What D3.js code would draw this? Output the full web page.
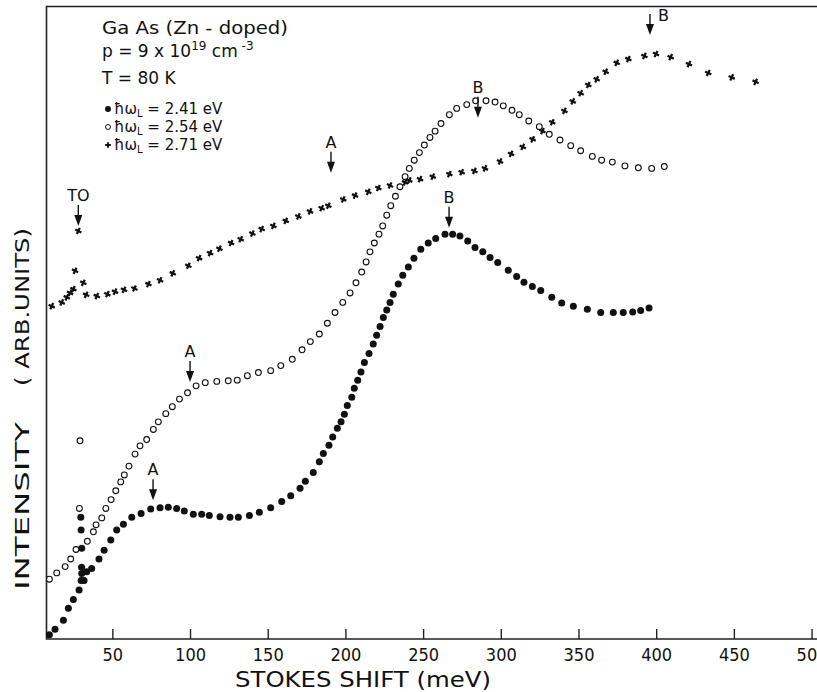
<!DOCTYPE html>
<html>
<head>
<meta charset="utf-8">
<script src="https://cdn.jsdelivr.net/npm/d3@7"></script>
<style>
  body { margin: 0; background: #fff; }
  text { font-family: "DejaVu Sans", sans-serif; fill: #111; }
  .tick text { font-family: "DejaVu Sans Condensed", "DejaVu Sans", sans-serif; }
</style>
</head>
<body>
<div id="vis"></div>
<script>
// Raman spectra, GaAs (Zn-doped) (x: meV, y: arb. units)

// hw_L = 2.41 eV (filled dots)
var shift241 = [9.5,13.1,18.5,21.7,24.9,28.6,29.9,31.8,30.3,30.2,33.5,36.7,30.3,29.9,29.7,
  41.4,44.7,49.0,52.8,57.1,62.5,68.5,74.7,80.7,86.0,91.4,96.3,102.1,107.5,112.4,119.3,125.7,131.1,
  138.2,144.6,151.9,159.0,164.8,170.8,174.2,179.3,183.2,185.8,189.4,191.8,194.8,197.2,199.3,201.2,
  204.1,205.7,207.9,210.0,212.2,215.2,217.9,220.1,222.3,224.4,226.6,228.7,230.8,234.0,236.9,240.5,
  244.1,248.5,253.3,258.1,264.1,269.0,273.7,278.7,283.4,288.4,293.1,298.0,304.8,310.2,314.9,320.3,
  325.7,332.8,339.2,346.7,355.7,364.3,372.4,378.8,384.9,390.0,395.4];
var int241 = [0.5,1.4,2.8,4.7,6.1,7.6,9.1,9.1,10.2,11.2,10.5,11.0,14.2,17.1,19.1,
  12.5,13.9,15.5,17.1,18.0,19.1,19.7,20.4,20.6,20.7,20.5,20.1,19.6,19.6,19.4,19.2,19.1,19.1,
  19.4,19.9,20.6,21.6,22.5,23.7,24.8,26.2,27.9,29.2,30.5,31.8,33.2,34.2,35.4,36.8,
  38.1,39.5,40.8,42.1,43.6,45.0,46.5,47.9,49.3,50.7,51.9,53.1,54.4,56.0,57.4,58.7,
  60.1,61.5,62.5,63.2,63.9,63.9,63.6,62.8,61.8,61.1,60.2,59.4,58.2,57.2,56.3,55.6,
  55.0,53.9,53.0,52.5,52.0,51.5,51.5,51.5,51.6,51.8,52.2];

// hw_L = 2.54 eV (open circles)
var shift254 = [9.5,14.2,19.6,23.2,26.6,28.8,29.2,33.9,37.8,39.5,43.2,45.8,49.2,52.2,55.4,57.7,
  60.7,64.6,67.8,72.1,76.4,79.6,84.4,88.6,93.2,98.4,103.9,109.8,117.2,124.6,130.4,136.9,144.0,
  151.9,158.4,165.8,172.1,177.4,183.2,188.4,193.3,198.3,203.0,206.8,210.5,213.3,215.8,218.6,
  221.6,224.0,226.6,229.2,232.2,235.1,238.4,241.1,244.3,247.6,250.8,254.4,257.7,261.5,266.9,
  271.6,278.1,283.8,290.5,296.3,301.6,307.2,311.9,318.0,324.8,331.2,338.1,345.0,351.4,358.9,
  364.9,371.8,379.9,388.5,397.1,405.2];
var int254 = [9.3,10.3,11.3,12.5,14.0,20.5,31.2,15.3,16.8,17.9,19.0,20.5,21.9,23.3,24.7,25.8,
  27.2,29.1,30.4,31.4,33.0,34.2,35.5,36.6,37.8,38.8,39.9,40.4,40.6,40.7,40.8,41.5,42.0,
  42.3,43.1,44.1,45.6,46.9,48.1,49.8,51.5,53.1,54.6,56.2,57.9,59.5,61.1,62.5,
  63.9,65.2,66.9,68.4,69.9,71.4,73.0,74.3,75.6,76.8,78.0,79.2,80.2,81.4,82.8,
  83.8,84.4,85.0,85.0,84.8,84.2,83.5,82.8,81.8,80.9,79.7,78.8,77.9,77.1,76.2,
  75.6,75.3,74.7,74.4,74.3,74.6];

// hw_L = 2.71 eV (crosses)
var shift271 = [11.0,17.4,20.7,22.8,24.9,26.0,28.1,31.3,33.1,40.0,46.8,51.7,57.5,64.2,73.2,80.7,
  88.9,98.9,105.8,112.9,118.9,126.4,132.6,140.1,146.1,153.6,161.6,169.7,177.2,184.7,189.0,198.6,
  206.2,214.7,221.2,228.7,238.4,241.1,248.0,256.2,266.9,274.8,283.0,289.8,299.5,306.6,314.1,
  320.5,326.8,333.1,340.9,346.3,351.4,356.3,361.7,367.5,374.6,382.1,392.4,399.9,409.3,421.1,
  433.5,448.6,464.0];
var int271 = [52.5,53.1,53.9,54.6,55.2,58.1,64.4,56.2,54.3,54.1,54.4,54.8,55.1,55.3,56.0,56.6,
  57.7,58.9,60.1,60.9,61.6,62.5,63.1,64.0,64.7,65.2,66.0,66.7,67.5,68.0,68.4,69.4,
  70.0,70.6,71.2,71.6,72.1,72.4,72.6,73.0,73.4,73.7,73.9,74.3,75.4,76.6,77.7,
  78.9,80.2,81.6,83.4,84.9,86.2,87.5,88.4,89.6,91.0,91.6,92.1,92.4,91.9,90.8,
  89.4,88.7,88.0];

// arrows: position (meV, arb.) of the arrow tip and its label
var arrowShift = [28.1, 76.2, 100.0, 190.7, 266.7, 285.3, 396.0];
var arrowInt   = [65.2, 21.8, 40.5, 73.6, 64.9, 82.3, 95.4];
var arrowText  = ["TO", "A", "A", "A", "B", "B", "B"];

var xTicks = [50, 100, 150, 200, 250, 300, 350, 400, 450, 500];

var legendLabels = ["2.41 eV", "2.54 eV", "2.71 eV"];

//////////////////////////////////////////////////////

var W = 817, H = 692;
var svg = d3.select("#vis").append("svg")
    .attr("width", W).attr("height", H);

var x = d3.scaleLinear().domain([7.3, 503.5]).range([46, 817]);
var y = d3.scaleLinear().domain([0, 100]).range([638, 6]);

// frame (left, top, bottom)
svg.append("path")
    .attr("d", "M817,6.5H46.5V639H817")
    .attr("fill", "none")
    .attr("stroke", "#222")
    .attr("stroke-width", 1.6);

// x axis, ticks pointing inward
var xAxis = d3.axisBottom(x)
    .tickValues(xTicks)
    .tickSizeInner(-10)
    .tickSizeOuter(0)
    .tickPadding(9);

var gx = svg.append("g")
    .attr("transform", "translate(0,639)")
    .call(xAxis);
gx.select(".domain").remove();
gx.selectAll(".tick line").attr("stroke", "#222").attr("stroke-width", 1.4);
gx.selectAll(".tick text")
    .style("font-size", "18px")
    .style("font-stretch", "condensed")
    .attr("fill", "#111")
    .attr("dy", "0.71em");

// axis titles
svg.append("text")
    .attr("x", 235).attr("y", 687)
    .attr("textLength", 256)
    .attr("lengthAdjust", "spacingAndGlyphs")
    .style("font-size", "21px")
    .text("STOKES  SHIFT  (meV)");

var yTitle = svg.append("g")
    .attr("transform", "translate(29,0) rotate(-90)");
yTitle.append("text")
    .attr("x", -590)
    .attr("textLength", 168)
    .attr("lengthAdjust", "spacingAndGlyphs")
    .style("font-size", "20px")
    .text("INTENSITY");
yTitle.append("text")
    .attr("x", -386)
    .attr("textLength", 158)
    .attr("lengthAdjust", "spacingAndGlyphs")
    .style("font-size", "20px")
    .text("( ARB.UNITS)");

// markers
var plot = svg.append("g");

plot.selectAll("circle.filled")
    .data(d3.zip(shift241, int241))
    .enter().append("circle")
    .attr("class", "filled")
    .attr("cx", d => x(d[0]))
    .attr("cy", d => y(d[1]))
    .attr("r", 3.5)
    .attr("fill", "#111");

plot.selectAll("circle.open")
    .data(d3.zip(shift254, int254))
    .enter().append("circle")
    .attr("class", "open")
    .attr("cx", d => x(d[0]))
    .attr("cy", d => y(d[1]))
    .attr("r", 2.9)
    .attr("fill", "#fff")
    .attr("stroke", "#111")
    .attr("stroke-width", 1.1);

var cross = d3.symbol().type(d3.symbolCross).size(26);
plot.selectAll("path.cross")
    .data(d3.zip(shift271, int271))
    .enter().append("path")
    .attr("class", "cross")
    .attr("d", cross)
    .attr("transform", d => "translate(" + x(d[0]) + "," + y(d[1]) + ") rotate(25)")
    .attr("fill", "#111");

// arrows with labels
var last = arrowText.length - 1;
var arrows = svg.append("g").selectAll("g")
    .data(d3.range(arrowText.length))
    .enter().append("g")
    .attr("transform", i => "translate(" + x(arrowShift[i]) + "," + y(arrowInt[i]) + ")");

arrows.append("line")
    .attr("x1", 0).attr("x2", 0)
    .attr("y1", -21).attr("y2", -8)
    .attr("stroke", "#111").attr("stroke-width", 1.4);
arrows.append("path")
    .attr("d", "M-4,-11L4,-11L0,0Z")
    .attr("fill", "#111");
arrows.append("text")
    .attr("x", i => i === last ? 8 : 0)
    .attr("y", i => i === last ? -14 : -25)
    .attr("text-anchor", i => i === last ? "start" : "middle")
    .style("font-size", "16px")
    .text(i => arrowText[i]);

// legend / sample info
var info = svg.append("g");
info.append("text")
    .attr("x", 102).attr("y", 34)
    .attr("textLength", 186)
    .attr("lengthAdjust", "spacingAndGlyphs")
    .style("font-size", "17px")
    .text("Ga As  (Zn - doped)");

var pLine = info.append("text")
    .attr("x", 102).attr("y", 57)
    .style("font-size", "17px");
pLine.append("tspan").text("p = 9 x 10");
pLine.append("tspan").attr("dy", -7).style("font-size", "12px").text("19");
pLine.append("tspan").attr("dy", 7).text(" cm");
pLine.append("tspan").attr("dy", -7).style("font-size", "12px").text(" -3");

info.append("text")
    .attr("x", 102).attr("y", 84)
    .style("font-size", "17px")
    .text("T = 80 K");

var legendY = [114, 132, 150];
var leg = info.selectAll("g.leg")
    .data(d3.range(3))
    .enter().append("g")
    .attr("class", "leg")
    .attr("transform", i => "translate(108," + legendY[i] + ")");

leg.filter(i => i === 0).append("circle")
    .attr("cy", -5).attr("r", 3).attr("fill", "#111");
leg.filter(i => i === 1).append("circle")
    .attr("cy", -5).attr("r", 2.5).attr("fill", "#fff")
    .attr("stroke", "#111").attr("stroke-width", 1);
leg.filter(i => i === 2).append("path")
    .attr("d", d3.symbol().type(d3.symbolCross).size(18))
    .attr("transform", "translate(0,-5)")
    .attr("fill", "#111");

var legText = leg.append("text")
    .attr("x", 6)
    .style("font-size", "15px");
legText.append("tspan").text("\u0127\u03c9");
legText.append("tspan").attr("dy", 3).style("font-size", "10px").text("L");
legText.append("tspan").attr("dy", -3).text(i => " =  " + legendLabels[i]);
</script>
</body>
</html>
